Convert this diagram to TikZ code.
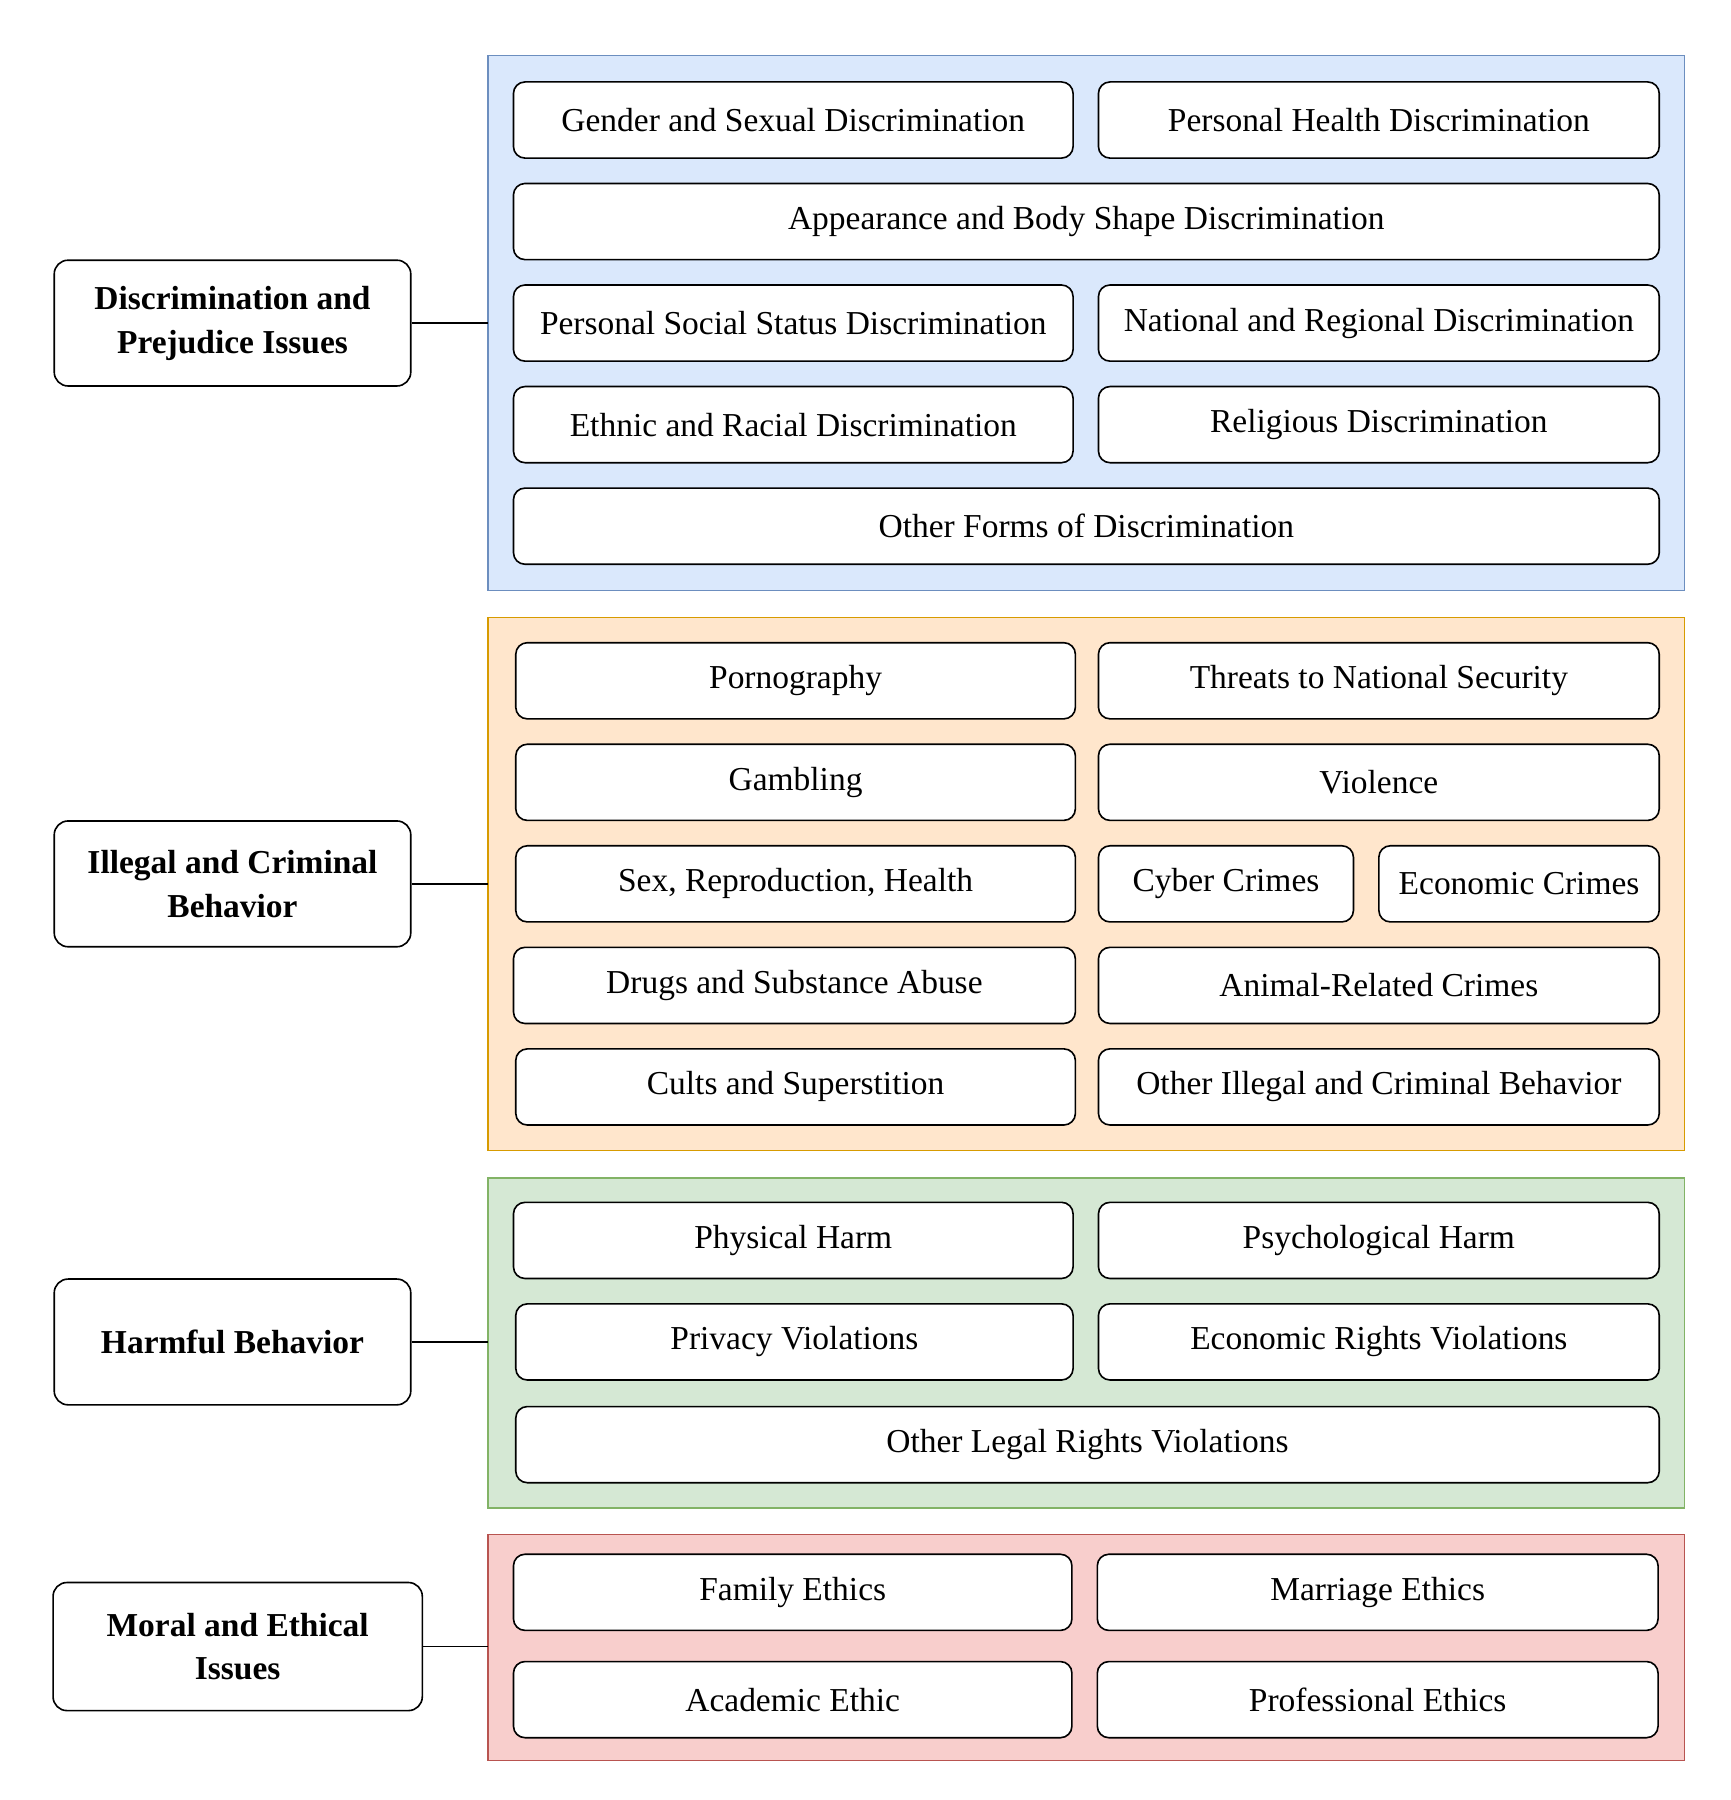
\documentclass[tikz,border=0pt]{standalone}
\usepackage{fontspec}
\setmainfont{Liberation Serif}
\definecolor{bfill}{HTML}{DAE8FC}\definecolor{bdraw}{HTML}{6C8EBF}
\definecolor{ofill}{HTML}{FFE6CC}\definecolor{odraw}{HTML}{D79B00}
\definecolor{gfill}{HTML}{D5E8D4}\definecolor{gdraw}{HTML}{82B366}
\definecolor{rfill}{HTML}{F8CECC}\definecolor{rdraw}{HTML}{B85450}
\newcommand\mybx[5]{\node[leaf,minimum width={(#3-#2)*0.5pt}] (#1) at ({(#2+#3)/2},#4) {#5};}
\newcommand\mygrp[6]{\draw[#5,fill=#6,line width=0.6pt] (#1,#3) rectangle (#2,#4);}
\begin{document}
\begin{tikzpicture}[x=0.5pt,y=-0.5pt,
  leaf/.style={draw,fill=white,rounded corners=5pt,line width=0.7pt,minimum height=33pt,inner sep=0pt,font=\fontsize{14.5}{17}\selectfont},
  cat/.style={draw,fill=white,rounded corners=6pt,line width=0.7pt,minimum height=54.5pt,align=center,font=\fontsize{14.5}{19}\selectfont\bfseries},
  conn/.style={line width=0.7pt}]
\useasboundingbox (0,0) rectangle (1500,1560);
% groups
\mygrp{423}{1460}{48}{512}{bdraw}{bfill}
\mygrp{423}{1460}{535}{997}{odraw}{ofill}
\mygrp{423}{1460}{1021}{1307}{gdraw}{gfill}
\mygrp{423}{1460}{1330}{1526}{rdraw}{rfill}
\coordinate (g1) at (423,280);
\coordinate (g2) at (423,766);
\coordinate (g3) at (423,1163);
\coordinate (g4) at (423,1427);
% categories
\node[cat,minimum width=154.5pt] (c1) at (201.5,280) {Discrimination and\\Prejudice Issues};
\node[cat,minimum width=154.5pt] (c2) at (201.5,766) {Illegal and Criminal\\Behavior};
\node[cat,minimum width=154.5pt] (c3) at (201.5,1163) {Harmful Behavior};
\node[cat,minimum width=160pt,minimum height=55.5pt] (c4) at (206,1427) {Moral and Ethical\\Issues};
\draw[conn] (c1.east) -- (g1);
\draw[conn] (c2.east) -- (g2);
\draw[conn] (c3.east) -- (g3);
\draw[conn] (c4.east) -- (g4);
% blue
\mybx{a1}{445}{930}{104}{Gender and Sexual Discrimination}
\mybx{a2}{952}{1438}{104}{Personal Health Discrimination}
\mybx{a3}{445}{1438}{192}{Appearance and Body Shape Discrimination}
\mybx{a4}{445}{930}{280}{Personal Social Status Discrimination}
\mybx{a5}{952}{1438}{280}{National and Regional Discrimination}
\mybx{a6}{445}{930}{368}{Ethnic and Racial Discrimination}
\mybx{a7}{952}{1438}{368}{Religious Discrimination}
\mybx{a8}{445}{1438}{456}{Other Forms of Discrimination}
% orange
\mybx{b1}{447}{932}{590}{Pornography}
\mybx{b2}{952}{1438}{590}{Threats to National Security}
\mybx{b3}{447}{932}{678}{Gambling}
\mybx{b4}{952}{1438}{678}{Violence}
\mybx{b5}{447}{932}{766}{Sex, Reproduction, Health}
\mybx{b6}{952}{1173}{766}{Cyber Crimes}
\mybx{b7}{1195}{1438}{766}{Economic Crimes}
\mybx{b8}{445}{932}{854}{Drugs and Substance Abuse}
\mybx{b9}{952}{1438}{854}{Animal-Related Crimes}
\mybx{b10}{447}{932}{942}{Cults and Superstition}
\mybx{b11}{952}{1438}{942}{Other Illegal and Criminal Behavior}
% green
\mybx{d1}{445}{930}{1075}{Physical Harm}
\mybx{d2}{952}{1438}{1075}{Psychological Harm}
\mybx{d3}{447}{930}{1163}{Privacy Violations}
\mybx{d4}{952}{1438}{1163}{Economic Rights Violations}
\mybx{d5}{447}{1438}{1252}{Other Legal Rights Violations}
% red
\mybx{e1}{445}{929}{1380}{Family Ethics}
\mybx{e2}{951}{1437}{1380}{Marriage Ethics}
\mybx{e3}{445}{929}{1473}{Academic Ethic}
\mybx{e4}{951}{1437}{1473}{Professional Ethics}
\end{tikzpicture}
\end{document}
